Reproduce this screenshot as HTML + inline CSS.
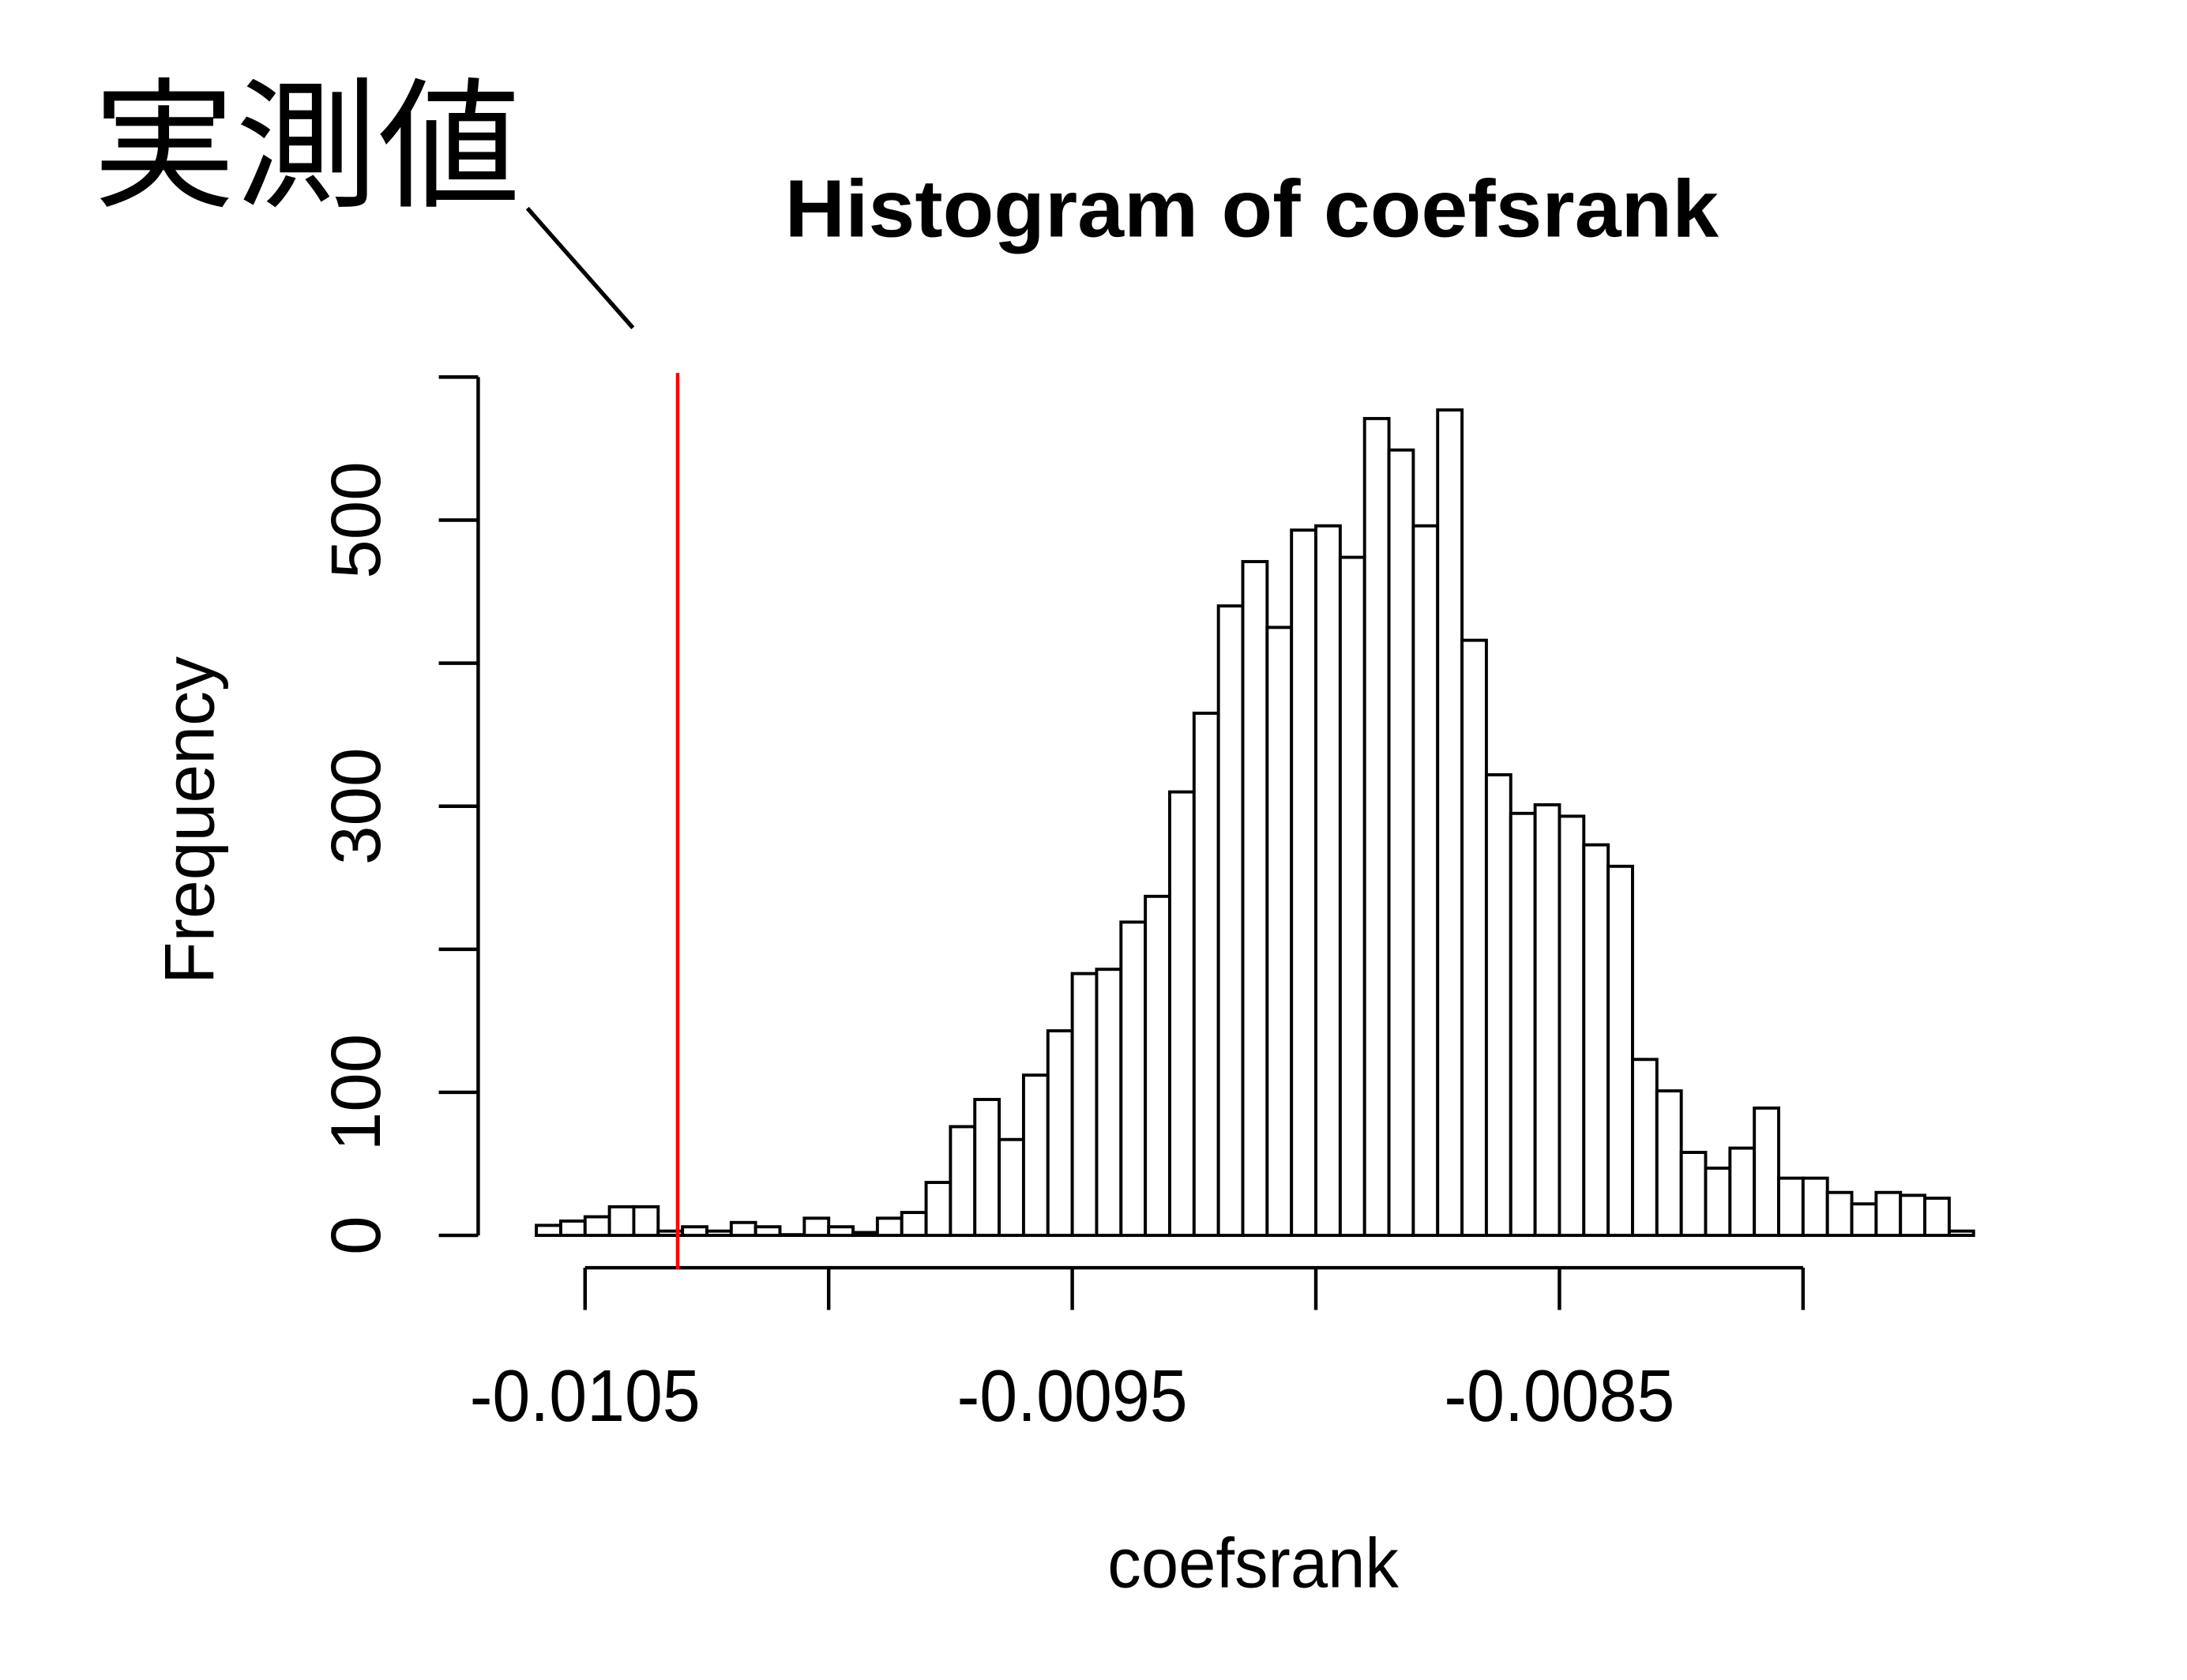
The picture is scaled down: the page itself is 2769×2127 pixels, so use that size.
<!DOCTYPE html>
<html><head><meta charset="utf-8"><style>
html,body{margin:0;padding:0;background:#fff;}
svg{display:block;}
</style></head><body>
<svg id="chart" width="2769" height="2127" viewBox="0 0 1555 1194" preserveAspectRatio="none" xmlns="http://www.w3.org/2000/svg">
<rect width="1555" height="1194" fill="#fff"/>
<text x="66" y="139" font-family="'Liberation Sans','Noto Sans CJK JP',sans-serif" font-size="100" textLength="304" lengthAdjust="spacingAndGlyphs">実測値</text>
<line x1="375" y1="148" x2="450" y2="233" stroke="#000" stroke-width="3"/>
<text x="890" y="168" text-anchor="middle" font-family="'Liberation Sans',sans-serif" font-weight="bold" font-size="58" textLength="664" lengthAdjust="spacingAndGlyphs">Histogram of coefsrank</text>
<text x="891" y="1128" text-anchor="middle" font-family="'Liberation Sans',sans-serif" font-size="50" textLength="207" lengthAdjust="spacingAndGlyphs">coefsrank</text>
<text transform="translate(152,583) rotate(-90)" text-anchor="middle" font-family="'Liberation Sans',sans-serif" font-size="50" textLength="233" lengthAdjust="spacingAndGlyphs">Frequency</text>
<g id="bars"></g>
<g id="axes"></g>
</svg>
<script>
const binStart = -0.0106;
const binWidth = 0.00005;
const counts = [7,10,13,20,20,3,6,3,9,6,0,12,6,2,12,16,37,76,95,67,112,143,183,186,219,237,310,365,440,471,425,493,496,474,571,549,496,577,416,322,295,301,293,273,258,123,101,58,47,61,89,40,40,30,22,30,28,26,3];
const yTicks = [0,100,200,300,400,500,600];
const yTickLabels = ["0","100","","300","","500",""];
const xTicks = [-0.0105,-0.0100,-0.0095,-0.0090,-0.0085,-0.0080];
const xTickLabels = ["-0.0105","","-0.0095","","-0.0085",""];
const observedValue = -0.01031;

const NS = "http://www.w3.org/2000/svg";
function xs(v){ return 416 + (v + 0.0105) / 0.0005 * 173.2; }
function ys(c){ return 878 - c * 1.0167; }
function mk(tag, attrs, parent){ const e=document.createElementNS(NS,tag); for(const k in attrs) e.setAttribute(k,attrs[k]); parent.appendChild(e); return e; }

const bars = document.getElementById('bars');
counts.forEach((c,i)=>{
  const x0 = xs(binStart + i*binWidth), x1 = xs(binStart + (i+1)*binWidth);
  const h = Math.max(ys(0)-ys(c), 0.5);
  const r = mk('rect',{x:x0,y:ys(0)-h,width:x1-x0,height:h,fill:'#fff',stroke:'#000','stroke-width':2.2},bars);
  
  
});

const axes = document.getElementById('axes');
const ya = mk('line',{x1:340,x2:340,y1:ys(yTicks[0]),y2:ys(yTicks[yTicks.length-1]),stroke:'#000','stroke-width':2.5},axes);


yTicks.forEach((t,i)=>{
  const l = mk('line',{x1:312,x2:340,y1:ys(t),y2:ys(t),stroke:'#000','stroke-width':2.5},axes);
  
  
  if(yTickLabels[i]){
    const tx = mk('text',{transform:'translate(270,'+ys(t)+') rotate(-90)','text-anchor':'middle','font-family':"'Liberation Sans',sans-serif",'font-size':50},axes);
    tx.textContent = yTickLabels[i];
    
    
  }
});
const xa = mk('line',{x1:xs(xTicks[0]),x2:xs(xTicks[xTicks.length-1]),y1:901,y2:901,stroke:'#000','stroke-width':2.5},axes);


xTicks.forEach((t,i)=>{
  const l = mk('line',{x1:xs(t),x2:xs(t),y1:901,y2:931,stroke:'#000','stroke-width':2.5},axes);
  
  
  if(xTickLabels[i]){
    const tx = mk('text',{x:xs(t),y:1010,'text-anchor':'middle','font-family':"'Liberation Sans',sans-serif",'font-size':52,textLength:164,lengthAdjust:'spacingAndGlyphs'},axes);
    tx.textContent = xTickLabels[i];
    
    
  }
});
const rl = mk('line',{x1:xs(observedValue),x2:xs(observedValue),y1:265,y2:902,stroke:'#f00','stroke-width':2.5},axes);


</script>
</body></html>
